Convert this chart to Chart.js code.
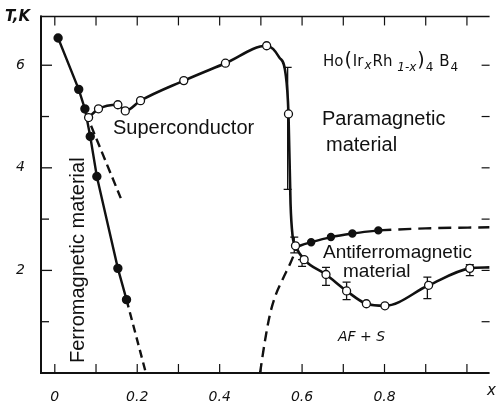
<!DOCTYPE html>
<html>
<head>
<meta charset="utf-8">
<script src="https://cdn.jsdelivr.net/npm/chart.js@4.4.1/dist/chart.umd.min.js"></script>
<style>
  html, body { margin: 0; padding: 0; background: #fff; }
  canvas { display: block; }
</style>
</head>
<body>
<canvas id="diagrama" width="496" height="403"></canvas>
<script>

// rama ferromagnética (puntos llenos)
const ferroX = [0.008, 0.058, 0.073, 0.086, 0.102, 0.153, 0.174];
const ferroT = [6.53, 5.53, 5.15, 4.61, 3.83, 2.04, 1.43];
const ferroExtX = [0.174, 0.221];
const ferroExtT = [1.43, 0];

// extrapolación a trazos bajo el punto de cruce
const extrapX = [0.088, 0.160];
const extrapT = [4.82, 3.41];

// transición superconductora (círculos abiertos); marca = 1 si hay círculo
const superX = [0.082, 0.106, 0.153, 0.171, 0.208, 0.313, 0.414, 0.514, 0.545, 0.560, 0.567,
  0.572, 0.577, 0.584, 0.605, 0.658, 0.708, 0.756, 0.801, 0.907, 1.007, 1.055];
const superT = [4.98, 5.15, 5.23, 5.11, 5.31, 5.70, 6.04, 6.38, 6.15, 5.83, 5.05,
  3.30, 2.67, 2.48, 2.21, 1.92, 1.60, 1.35, 1.31, 1.71, 2.04, 2.06];
const superMarca = [1, 1, 1, 1, 1, 1, 1, 1, 0, 0, 1, 0, 0, 1, 1, 1, 1, 1, 1, 1, 1, 0];

// rama antiferromagnética (puntos llenos y continuación a trazos)
const afX = [0.586, 0.622, 0.670, 0.722, 0.785];
const afT = [2.46, 2.55, 2.65, 2.72, 2.78];
const afExtX = [0.785, 0.900, 1.055];
const afExtT = [2.78, 2.82, 2.84];

// frontera AF + S (a trazos)
const afsX = [0.498, 0.510, 0.522, 0.536, 0.553, 0.572, 0.586];
const afsT = [0, 0.63, 1.14, 1.52, 1.83, 2.15, 2.42];

// barras de error
const errX = [0.565, 0.581, 0.600, 0.658, 0.708, 0.904, 1.007];
const errBajo = [3.58, 2.34, 2.08, 1.71, 1.43, 1.45, 1.90];
const errAlto = [5.96, 2.65, 2.21, 2.06, 1.77, 1.87, 2.11];

// etiquetas de los ejes
const ticksX = [0, 0.2, 0.4, 0.6, 0.8];
const ticksY = [2, 4, 6];

const NEGRO = '#111';

const puntos = (xs, ys) => xs.map((x, i) => ({ x, y: ys[i] }));

const linea = (datos, extra = {}) => ({
  data: datos,
  borderColor: NEGRO,
  borderWidth: 2.4,
  pointRadius: 0,
  pointBackgroundColor: NEGRO,
  pointBorderColor: NEGRO,
  fill: false,
  ...extra
});

const barrasError = errX.map((x, i) => linea(
  [{ x, y: errBajo[i] }, { x, y: errAlto[i] }],
  { borderWidth: 1.3, pointStyle: 'line', pointRadius: 4, pointBorderWidth: 1.3, order: 5 }
));

// marco, ejes y marcas hacia dentro
const marco = {
  id: 'marco',
  beforeDatasetsDraw(chart) {
    const { ctx, chartArea: a, scales: { x, y } } = chart;
    ctx.save();
    ctx.strokeStyle = NEGRO;
    ctx.lineCap = 'butt';
    const seg = (x1, y1, x2, y2, w) => {
      ctx.lineWidth = w;
      ctx.beginPath();
      ctx.moveTo(x1, y1);
      ctx.lineTo(x2, y2);
      ctx.stroke();
    };
    seg(a.left, a.top - 1, a.left, a.bottom + 1, 2);
    seg(a.left - 1, a.bottom, a.right, a.bottom, 2);
    seg(a.left - 1, a.top, a.right, a.top, 1.5);
    for (let i = 0; i <= 10; i++) {
      const px = x.getPixelForValue(i / 10);
      seg(px, a.bottom, px, a.bottom - 9, 1.2);
      seg(px, a.top, px, a.top + 9, 1.2);
    }
    for (let t = 1; t <= 6; t++) {
      const py = y.getPixelForValue(t);
      seg(a.left, py, a.left + (t % 2 ? 8 : 11), py, 1.3);
      seg(a.right, py, a.right - 8, py, 1.2);
    }
    ctx.restore();
  }
};

// textos del diagrama
const textos = {
  id: 'textos',
  afterDraw(chart) {
    const { ctx } = chart;
    ctx.save();
    ctx.fillStyle = NEGRO;
    ctx.textBaseline = 'alphabetic';
    ctx.textAlign = 'left';

    ctx.font = '20px "Liberation Sans", Arial, sans-serif';
    ctx.fillText('Superconductor', 113, 134);
    ctx.fillText('Paramagnetic', 322, 125);
    ctx.fillText('material', 326, 151);
    ctx.font = '19px "Liberation Sans", Arial, sans-serif';
    ctx.fillText('Antiferromagnetic', 323, 258);
    ctx.fillText('material', 343, 277);

    ctx.font = 'italic 14px "DejaVu Sans", sans-serif';
    ctx.fillText('AF + S', 338, 341);

    ctx.font = 'italic bold 15px "DejaVu Sans", sans-serif';
    ctx.fillText('T,K', 5, 21);

    ctx.font = 'italic 15px "DejaVu Sans", sans-serif';
    ctx.fillText('x', 487, 395);

    // texto vertical
    ctx.save();
    ctx.translate(84, 363);
    ctx.rotate(-Math.PI / 2);
    ctx.font = '20px "Liberation Sans", Arial, sans-serif';
    ctx.fillText('Ferromagnetic material', 0, 0);
    ctx.restore();

    // fórmula con subíndices
    const piezas = [
      ['Ho', 0, '15px'], ['(', 0, '19px'], ['Ir', 0, '15px'], ['x', 3, 'italic 12px'],
      ['Rh', 0, '15px'], [' 1-x', 5, 'italic 12px'], [')', 0, '19px'], ['4', 5, '12px'],
      [' B', 0, '15px'], ['4', 5, '12px']
    ];
    let px = 323;
    piezas.forEach(([txt, baja, fuente]) => {
      ctx.font = fuente + ' "DejaVu Sans", sans-serif';
      ctx.fillText(txt, px, 66 + baja);
      px += ctx.measureText(txt).width + 1;
    });
    ctx.restore();
  }
};

const fuenteTicks = { family: 'DejaVu Sans', style: 'italic', size: 14 };

new Chart(document.getElementById('diagrama').getContext('2d'), {
  type: 'line',
  data: {
    datasets: [
      linea(puntos(superX, superT), {
        order: 0,
        borderWidth: 2.6,
        cubicInterpolationMode: 'monotone',
        pointRadius: superMarca.map(m => m ? 4 : 0),
        pointBackgroundColor: '#fff',
        pointBorderWidth: 1.3
      }),
      linea(puntos(ferroX, ferroT), { order: 1, pointRadius: 3.5 }),
      linea(puntos(ferroExtX, ferroExtT), { order: 2, borderDash: [8, 5] }),
      linea(puntos(extrapX, extrapT), { order: 2, borderDash: [9, 5] }),
      linea(puntos(afX, afT), {
        order: 1,
        cubicInterpolationMode: 'monotone',
        pointRadius: afX.map((_, i) => i === 0 ? 0 : 3)
      }),
      linea(puntos(afExtX, afExtT), { order: 2, borderDash: [13, 7], cubicInterpolationMode: 'monotone' }),
      linea(puntos(afsX, afsT), { order: 2, borderDash: [10, 6], cubicInterpolationMode: 'monotone' }),
      ...barrasError
    ]
  },
  options: {
    responsive: false,
    devicePixelRatio: 1,
    animation: false,
    events: [],
    layout: { padding: { top: 8, right: 0, bottom: 0, left: 0 } },
    plugins: { legend: { display: false }, tooltip: { enabled: false } },
    scales: {
      x: {
        type: 'linear',
        min: -0.0335,
        max: 1.055,
        grid: { display: false },
        border: { display: false },
        afterBuildTicks: s => { s.ticks = ticksX.map(v => ({ value: v })); },
        afterFit: s => { s.height = 30; },
        ticks: {
          autoSkip: false,
          maxRotation: 0,
          padding: 8,
          color: NEGRO,
          font: fuenteTicks,
          callback: v => (v === 0 ? '0' : v.toFixed(1))
        }
      },
      y: {
        type: 'linear',
        min: 0,
        max: 6.952,
        grid: { display: false },
        border: { display: false },
        afterBuildTicks: s => { s.ticks = ticksY.map(v => ({ value: v })); },
        afterFit: s => { s.width = 41; },
        ticks: {
          padding: 8,
          color: NEGRO,
          font: fuenteTicks,
          callback: v => String(v)
        }
      }
    }
  },
  plugins: [marco, textos]
});
</script>
</body>
</html>
